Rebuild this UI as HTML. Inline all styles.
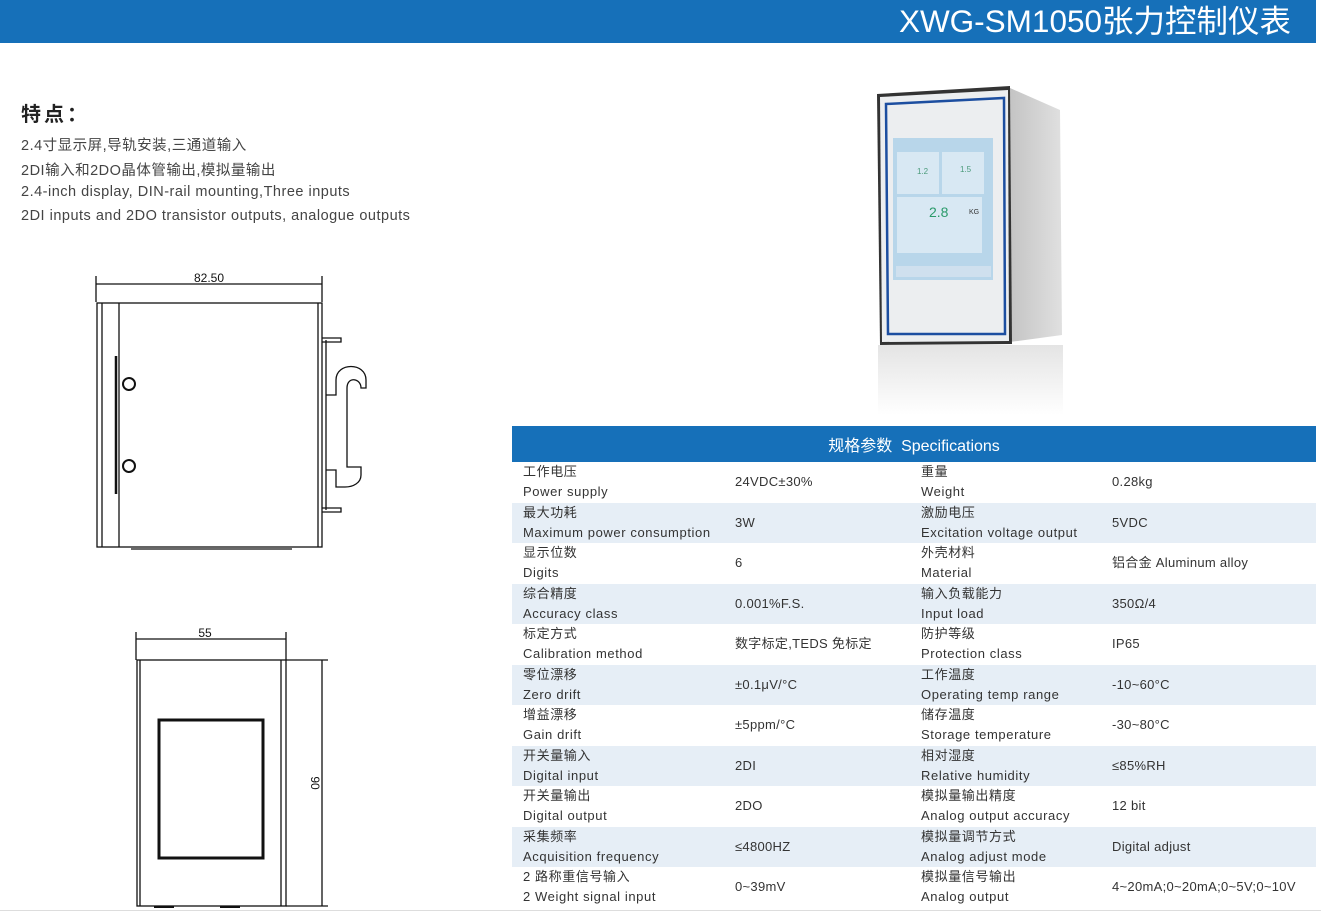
<!DOCTYPE html>
<html><head><meta charset="utf-8"><style>
*{margin:0;padding:0;box-sizing:border-box}
body{width:1321px;height:914px;background:#fff;position:relative;overflow:hidden;font-family:"Liberation Sans","Noto Sans CJK SC",sans-serif;color:#333}
.a{position:absolute;white-space:nowrap}
.hdr{left:0;top:0;width:1316px;height:43px;background:#1670b9}
.title{right:30px;top:1px;color:#fff;font-size:31.5px;line-height:40px}
.f{left:21px;font-size:14.5px;color:#444;letter-spacing:0.5px}
table{position:absolute;left:512px;top:426px;width:804px;border-collapse:collapse;font-size:13px;color:#333;table-layout:fixed}
th{height:36px;background:#1670b9;color:#fff;font-weight:normal;font-size:16px;text-align:center}
td{height:40.5px;line-height:20px;vertical-align:middle;padding:0;letter-spacing:0.3px}
tr:nth-child(odd) td{background:#e6eef6}
td.c1{padding-left:11px;width:223px}
td.c2{width:186px}
td.c3{width:191px}
td.c4{padding-left:0}
td span{display:block;letter-spacing:0.6px}
</style></head><body>
<div class="a hdr"></div>
<div class="a title">XWG-SM1050张力控制仪表</div>
<div class="a" style="left:21px;top:98px;font-size:20px;font-weight:bold;color:#222;letter-spacing:3px">特点：</div>
<div class="a f" style="top:134px">2.4寸显示屏,导轨安装,三通道输入</div>
<div class="a f" style="top:159px">2DI输入和2DO晶体管输出,模拟量输出</div>
<div class="a f" style="top:184px;letter-spacing:0.5px">2.4-inch display, DIN-rail mounting,Three inputs</div>
<div class="a f" style="top:208px;letter-spacing:0.5px">2DI inputs and 2DO transistor outputs, analogue outputs</div>

<svg class="a" style="left:0;top:0" width="512" height="914" viewBox="0 0 512 914">
<g fill="none" stroke="#111" stroke-width="1.3">
<line x1="96" y1="284" x2="322" y2="284"/><line x1="96" y1="276" x2="96" y2="302"/><line x1="322" y1="276" x2="322" y2="302"/>
<rect x="97" y="303" width="225" height="244"/>
<line x1="102" y1="303" x2="102" y2="547"/><line x1="119" y1="303" x2="119" y2="547"/>
<line x1="318" y1="303" x2="318" y2="547"/>
<line x1="131" y1="549" x2="292" y2="549"/>
<line x1="116" y1="356" x2="116" y2="494" stroke-width="2.5"/>
<path d="M322 338h19v4h-19 M322 508h19v4h-19"/>
<line x1="326" y1="340" x2="326" y2="510"/>
<path d="M326 395h10v-15c0-18 30-18 30 0v8h-5c0-10-14-12-14 0v79h14v8c0 8-8 12-16 12h-9v-17h-10"/>
<circle cx="129" cy="384" r="6" stroke-width="2"/><circle cx="129" cy="466" r="6" stroke-width="2"/>
<line x1="136" y1="639" x2="286" y2="639"/><line x1="136" y1="632" x2="136" y2="660"/><line x1="286" y1="632" x2="286" y2="660"/>
<rect x="137" y="660" width="149" height="246"/>
<line x1="140" y1="660" x2="140" y2="906"/>
<line x1="281" y1="660" x2="281" y2="906"/>
<rect x="159" y="720" width="104" height="138" stroke-width="3"/>
<line x1="286" y1="660" x2="328" y2="660"/><line x1="286" y1="906" x2="328" y2="906"/>
<line x1="322" y1="660" x2="322" y2="906"/>
<path d="M154 907h20M220 907h20" stroke-width="2"/>
</g>
<g font-family="Liberation Sans" font-size="12" fill="#111">
<text x="209" y="282" text-anchor="middle">82.50</text>
<text x="205" y="637" text-anchor="middle">55</text>
<text x="0" y="0" text-anchor="middle" transform="translate(311,783) rotate(90)">90</text>
</g>
</svg>

<svg class="a" style="top:80px;left:860px" width="220" height="340" viewBox="0 0 220 340">
<defs><linearGradient id="r" x1="0" y1="0" x2="0" y2="1"><stop offset="0" stop-color="#e4e4e4"/><stop offset="1" stop-color="#fff"/></linearGradient>
<linearGradient id="s" x1="0" y1="0" x2="1" y2="0"><stop offset="0" stop-color="#c4c4c4"/><stop offset="1" stop-color="#e0e0e0"/></linearGradient></defs>
<rect x="18" y="265" width="185" height="70" fill="url(#r)"/>
<path d="M150 8 L200 30 L202 255 L150 262Z" fill="url(#s)"/>
<path d="M17 14 L150 6 L152 264 L20 265Z" fill="#333"/>
<path d="M20 17 L148 10 L149 261 L22 262Z" fill="#eceef0"/>
<path d="M26 24 L144 18 L145 254 L28 254Z" fill="none" stroke="#1c4ea0" stroke-width="2.5"/>
<rect x="33" y="58" width="100" height="142" fill="#b8d6ea"/>
<rect x="37" y="72" width="42" height="42" fill="#d8e8f3"/><rect x="82" y="72" width="42" height="42" fill="#d8e8f3"/>
<rect x="37" y="117" width="85" height="56" fill="#d8e8f3"/>
<text x="57" y="94" font-size="8" fill="#4a9a7a" font-family="Liberation Sans">1.2</text>
<text x="100" y="92" font-size="8" fill="#4a9a7a" font-family="Liberation Sans">1.5</text>
<text x="69" y="137" font-size="14" fill="#2a9a6a" font-family="Liberation Sans">2.8</text>
<text x="109" y="134" font-size="7" fill="#333" font-family="Liberation Sans">KG</text>
<rect x="36" y="186" width="95" height="11" fill="#cfe0ee"/>
</svg>

<table>
<colgroup><col style="width:223px"><col style="width:186px"><col style="width:191px"><col></colgroup>
<tr><th colspan="4">规格参数&nbsp; Specifications</th></tr>
<tr><td class="c1"><span>工作电压</span><span>Power supply</span></td><td class="c2">24VDC±30%</td><td class="c3"><span>重量</span><span>Weight</span></td><td class="c4">0.28kg</td></tr>
<tr><td class="c1"><span>最大功耗</span><span>Maximum power consumption</span></td><td class="c2">3W</td><td class="c3"><span>激励电压</span><span>Excitation voltage output</span></td><td class="c4">5VDC</td></tr>
<tr><td class="c1"><span>显示位数</span><span>Digits</span></td><td class="c2">6</td><td class="c3"><span>外壳材料</span><span>Material</span></td><td class="c4">铝合金 Aluminum alloy</td></tr>
<tr><td class="c1"><span>综合精度</span><span>Accuracy class</span></td><td class="c2">0.001%F.S.</td><td class="c3"><span>输入负载能力</span><span>Input load</span></td><td class="c4">350Ω/4</td></tr>
<tr><td class="c1"><span>标定方式</span><span>Calibration method</span></td><td class="c2">数字标定,TEDS 免标定</td><td class="c3"><span>防护等级</span><span>Protection class</span></td><td class="c4">IP65</td></tr>
<tr><td class="c1"><span>零位漂移</span><span>Zero drift</span></td><td class="c2">±0.1μV/°C</td><td class="c3"><span>工作温度</span><span>Operating temp range</span></td><td class="c4">-10~60°C</td></tr>
<tr><td class="c1"><span>增益漂移</span><span>Gain drift</span></td><td class="c2">±5ppm/°C</td><td class="c3"><span>储存温度</span><span>Storage temperature</span></td><td class="c4">-30~80°C</td></tr>
<tr><td class="c1"><span>开关量输入</span><span>Digital input</span></td><td class="c2">2DI</td><td class="c3"><span>相对湿度</span><span>Relative humidity</span></td><td class="c4">≤85%RH</td></tr>
<tr><td class="c1"><span>开关量输出</span><span>Digital output</span></td><td class="c2">2DO</td><td class="c3"><span>模拟量输出精度</span><span>Analog output accuracy</span></td><td class="c4">12 bit</td></tr>
<tr><td class="c1"><span>采集频率</span><span>Acquisition frequency</span></td><td class="c2">≤4800HZ</td><td class="c3"><span>模拟量调节方式</span><span>Analog adjust mode</span></td><td class="c4">Digital adjust</td></tr>
<tr><td class="c1"><span>2 路称重信号输入</span><span>2 Weight signal input</span></td><td class="c2">0~39mV</td><td class="c3"><span>模拟量信号输出</span><span>Analog output</span></td><td class="c4">4~20mA;0~20mA;0~5V;0~10V</td></tr>
</table>
<div class="a" style="left:0;top:910px;width:1321px;height:1px;background:#ddd"></div>
</body></html>
